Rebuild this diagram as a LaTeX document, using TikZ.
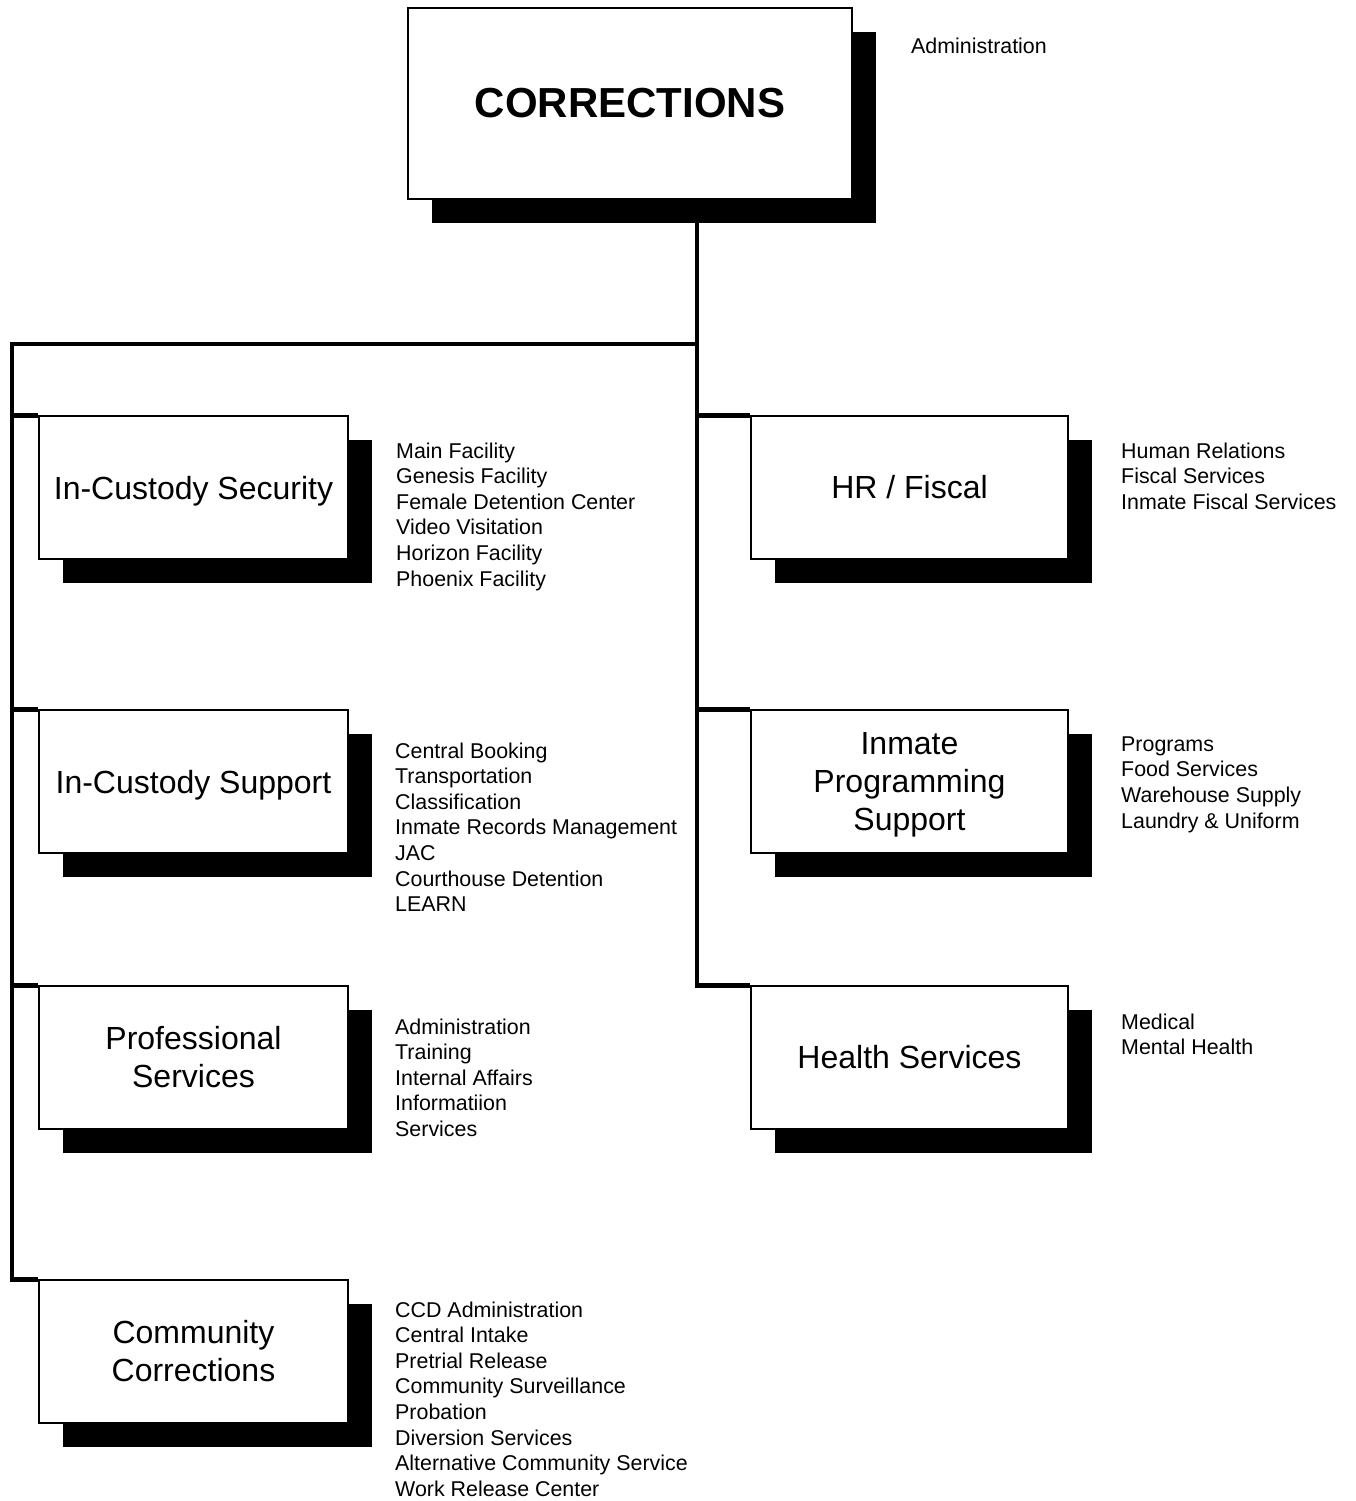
\documentclass[tikz,border=0pt]{standalone}
\usepackage{fontspec}
\setmainfont{Liberation Sans}
\usetikzlibrary{shadows,calc}
\newcommand{\zerodepth}[1]{\raisebox{0pt}[\height][0pt]{#1}}
\begin{document}
\begin{tikzpicture}[x=1pt,y=-1pt,
  box/.style={draw=black, line width=1.5pt, fill=white, align=center, inner sep=0pt,
    font=\fontsize{32}{38}\selectfont,
    general shadow={fill=black, shadow xshift=24pt, shadow yshift=-24pt}},
  lbox/.style={box, minimum width=309pt, minimum height=143pt},
  rbox/.style={box, minimum width=317pt, minimum height=143pt},
  list/.style={anchor=north west, inner sep=0pt, align=left, font=\fontsize{21.4}{25.6}\selectfont},
  conn/.style={line width=4.5pt, line join=miter}]
\useasboundingbox (0,0) rectangle (1356,1501);

% boxes
\node[box, font=\bfseries\fontsize{42}{50}\selectfont, minimum width=444pt, minimum height=191pt] (top) at (630,103.5) {CORRECTIONS};
\node[lbox] (ics) at (193.5,487.5) {\zerodepth{In-Custody Security}};
\node[lbox] (icsup) at (193.5,781.5) {\zerodepth{In-Custody Support}};
\node[lbox] (ps) at (193.5,1057.5) {Professional\\Services};
\node[lbox] (cc) at (193.5,1351.5) {Community\\Corrections};
\node[rbox] (hr) at (909.5,487.5) {HR / Fiscal};
\node[rbox] (ips) at (909.5,781.5) {Inmate\\Programming\\\zerodepth{Support}};
\node[rbox] (hs) at (909.5,1057.5) {Health Services};

% connectors
\coordinate (t0) at (697,199);
\coordinate (j) at (697,344);
\coordinate (l0) at (12,344);
\draw[conn] (t0) |- (hs.north west);
\draw[conn] (j) -- (l0) |- (cc.north west);
\draw[conn] (l0 |- ics.north west) -- (ics.north west);
\draw[conn] (l0 |- icsup.north west) -- (icsup.north west);
\draw[conn] (l0 |- ps.north west) -- (ps.north west);
\draw[conn] (t0 |- hr.north west) -- (hr.north west);
\draw[conn] (t0 |- ips.north west) -- (ips.north west);

% lists
\node[list] (ladm) at (911,37.3) {Administration};
\node[list] (lics) at (396,442.3) {Main Facility\\Genesis Facility\\Female Detention Center\\Video Visitation\\Horizon Facility\\Phoenix Facility};
\node[list] (licsup) at (395,742.3) {Central Booking\\Transportation\\Classification\\Inmate Records Management\\JAC\\Courthouse Detention\\LEARN};
\node[list] (lps) at (395,1018.3) {Administration\\Training\\Internal Affairs\\Informatiion\\Services};
\node[list] (lcc) at (395,1301.3) {CCD Administration\\Central Intake\\Pretrial Release\\Community Surveillance\\Probation\\Diversion Services\\Alternative Community Service\\Work Release Center};
\node[list] (lhr) at (1121,442.3) {Human Relations\\Fiscal Services\\Inmate Fiscal Services};
\node[list] (lips) at (1121,736.3) {Programs\\Food Services\\Warehouse Supply\\Laundry \& Uniform};
\node[list] (lhs) at (1121,1013.3) {Medical\\Mental Health};
\end{tikzpicture}
\end{document}
